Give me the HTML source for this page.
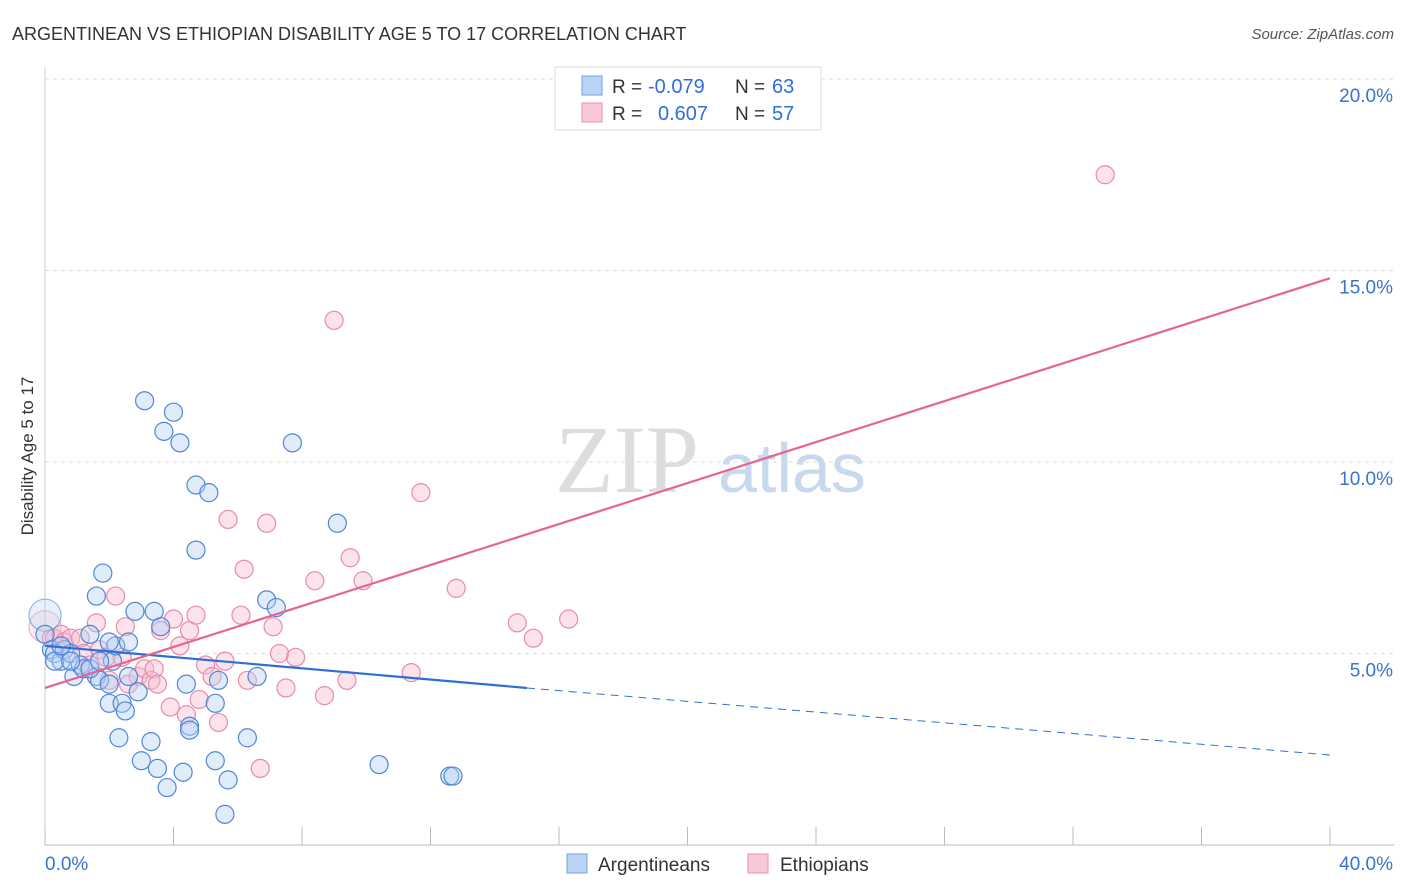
<!DOCTYPE html>
<html><head><meta charset="utf-8"><style>
body{margin:0;background:#fff;font-family:"Liberation Sans",sans-serif;}
#wrap{position:relative;width:1406px;height:892px;overflow:hidden}
</style></head><body>
<div id="wrap">
<svg id="chart" width="1406" height="892">
<text x="12" y="40" font-size="18" fill="#333">ARGENTINEAN VS ETHIOPIAN DISABILITY AGE 5 TO 17 CORRELATION CHART</text>
<text x="1394" y="39" font-size="15" fill="#555" font-style="italic" text-anchor="end">Source: ZipAtlas.com</text>
<text x="33" y="456" font-size="17" fill="#333" text-anchor="middle" transform="rotate(-90 33 456)">Disability Age 5 to 17</text>
<text x="555" y="492" font-size="96" fill="#ddd" font-family="Liberation Serif,serif">ZIP</text>
<text x="718" y="492" font-size="70" fill="#c8d8ee">atlas</text>
<g id="grid"></g><g id="pts"></g><g id="lines"></g>
<g>
<rect x="555" y="67" width="266" height="63" fill="#fff" stroke="#ddd"/>
<rect x="582" y="76" width="20" height="19" fill="#b9d3f5" stroke="#6f9fe0"/>
<rect x="582" y="103" width="20" height="19" fill="#f9c8d8" stroke="#ec8fb0"/>
<text x="612" y="93" font-size="19" fill="#333">R =</text>
<text x="648" y="93" font-size="20" fill="#2f6fd6">-0.079</text>
<text x="735" y="93" font-size="19" fill="#333">N =</text>
<text x="772" y="93" font-size="20" fill="#2f6fd6">63</text>
<text x="612" y="120" font-size="19" fill="#333">R =</text>
<text x="658" y="120" font-size="20" fill="#2f6fd6">0.607</text>
<text x="735" y="120" font-size="19" fill="#333">N =</text>
<text x="772" y="120" font-size="20" fill="#2f6fd6">57</text>
</g>
<g>
<rect x="567" y="854" width="20" height="19" fill="#b9d3f5" stroke="#6f9fe0"/>
<text x="598" y="871" font-size="19" fill="#333">Argentineans</text>
<rect x="748" y="854" width="20" height="19" fill="#f9c8d8" stroke="#ec8fb0"/>
<text x="780" y="871" font-size="19" fill="#333">Ethiopians</text>
</g>
</svg></div>
<script>
const yTicks=[5,10,15,20];
const xTickLabels=["0.0%","40.0%"];
const blueX=[0.0,0.0,0.2,0.3,0.5,0.6,0.8,0.9,1.1,1.2,1.4,1.6,1.6,1.7,1.8,2.0,2.0,2.1,2.2,2.3,2.4,2.5,2.6,2.6,2.8,2.9,3.0,3.1,3.3,3.4,3.5,3.6,3.7,3.8,4.0,4.2,4.3,4.4,4.5,4.5,4.7,4.7,5.1,5.3,5.3,5.4,5.6,5.7,6.3,6.6,6.9,7.2,7.7,9.1,10.4,12.6,12.7,0.3,0.8,2.0,1.4,0.5,1.7];
const blueY=[6.0,5.5,5.1,5.0,4.8,5.1,5.0,4.4,4.7,4.6,5.5,4.4,6.5,4.3,7.1,4.2,3.7,4.8,5.2,2.8,3.7,3.5,5.3,4.4,6.1,4.0,2.2,11.6,2.7,6.1,2.0,5.7,10.8,1.5,11.3,10.5,1.9,4.2,3.1,3.0,9.4,7.7,9.2,3.7,2.2,4.3,0.8,1.7,2.8,4.4,6.4,6.2,10.5,8.4,2.1,1.8,1.8,4.8,4.8,5.3,4.6,5.2,4.8];
const pinkX=[0.0,0.2,0.3,0.5,0.6,0.8,1.1,1.2,1.4,1.6,1.7,1.9,2.0,2.2,2.4,2.5,2.6,2.9,3.1,3.3,3.4,3.5,3.6,3.9,4.0,4.2,4.4,4.5,4.7,4.8,5.0,5.2,5.4,5.6,5.7,6.1,6.2,6.3,6.7,6.9,7.1,7.3,7.5,7.8,8.4,8.7,9.0,9.4,9.5,9.9,11.4,11.7,12.8,14.7,15.2,16.3,33.0];
const pinkY=[5.7,5.4,5.4,5.5,5.3,5.4,5.4,5.0,4.7,5.8,5.1,4.9,4.3,6.5,4.9,5.7,4.2,4.4,4.6,4.3,4.6,4.2,5.6,3.6,5.9,5.2,3.4,5.6,6.0,3.8,4.7,4.4,3.2,4.8,8.5,6.0,7.2,4.3,2.0,8.4,5.7,5.0,4.1,4.9,6.9,3.9,13.7,4.3,7.5,6.9,4.5,9.2,6.7,5.8,5.4,5.9,17.5];
const blueLine=[[0,5.2],[15,4.1],[40,2.35]];
const pinkLine=[[0,4.1],[40,14.8]];
const NS="http://www.w3.org/2000/svg";
const X=v=>45+v*32.125, Y=v=>845-v*38.3;
function mk(p,t,a){const e=document.createElementNS(NS,t);for(const k in a)e.setAttribute(k,a[k]);p.appendChild(e);return e;}
const g=document.getElementById('grid');
yTicks.forEach(t=>{
 const l=mk(g,'line',{x1:45,x2:1394,y1:Y(t),y2:Y(t),stroke:'#ddd','stroke-dasharray':'4,4'});
 
 
 const tx=mk(g,'text',{x:1393,y:Y(t)+23,'font-size':19,fill:'#3a72d0','text-anchor':'end'});
 tx.textContent=t.toFixed(1)+'%';
 
 
});
const ax=mk(g,'line',{x1:45,x2:1394,y1:845,y2:845,stroke:'#bbb'});


const ay=mk(g,'line',{x1:45,x2:45,y1:67,y2:845,stroke:'#ccc'});


for(let i=0;i<=10;i++){const tk=mk(g,'line',{x1:X(i*4),x2:X(i*4),y1:827,y2:845,stroke:'#bbb'});
 
 }
[[0,'start',45],[1,'end',1393]].forEach(([i,an,x])=>{const t=mk(g,'text',{x:x,y:870,'font-size':19,fill:'#3a72d0','text-anchor':an});t.textContent=xTickLabels[i];
 
 });
const P=document.getElementById('pts');
function dots(xs,ys,fill,stroke,name,op){for(let i=0;i<Math.min(xs.length,ys.length);i++){
 const r=(i===0)?16:9;
 const c=mk(P,'circle',{cx:X(xs[i]),cy:Y(ys[i]),r:r,fill:fill,'fill-opacity':(i===0?0.3:op),stroke:stroke,'stroke-width':1.2,'stroke-opacity':(i===0?0.6:1)});
 
 }}
dots(pinkX,pinkY,'#f7bfd2','#ea8aab','ethiopian-point',0.45);
dots(blueX,blueY,'#b3cff3','#4f86d8','argentinean-point',0.4);
const L=document.getElementById('lines');
const b1=mk(L,'line',{x1:X(blueLine[0][0]),y1:Y(blueLine[0][1]),x2:X(blueLine[1][0]),y2:Y(blueLine[1][1]),stroke:'#2e6fd6','stroke-width':2.2});


const b2=mk(L,'line',{x1:X(blueLine[1][0]),y1:Y(blueLine[1][1]),x2:X(blueLine[2][0]),y2:Y(blueLine[2][1]),stroke:'#2e6fd6','stroke-width':1,'stroke-dasharray':'8,6'});


const p1=mk(L,'line',{x1:X(pinkLine[0][0]),y1:Y(pinkLine[0][1]),x2:X(pinkLine[1][0]),y2:Y(pinkLine[1][1]),stroke:'#e8648f','stroke-width':2.2});


</script>
</body></html>
